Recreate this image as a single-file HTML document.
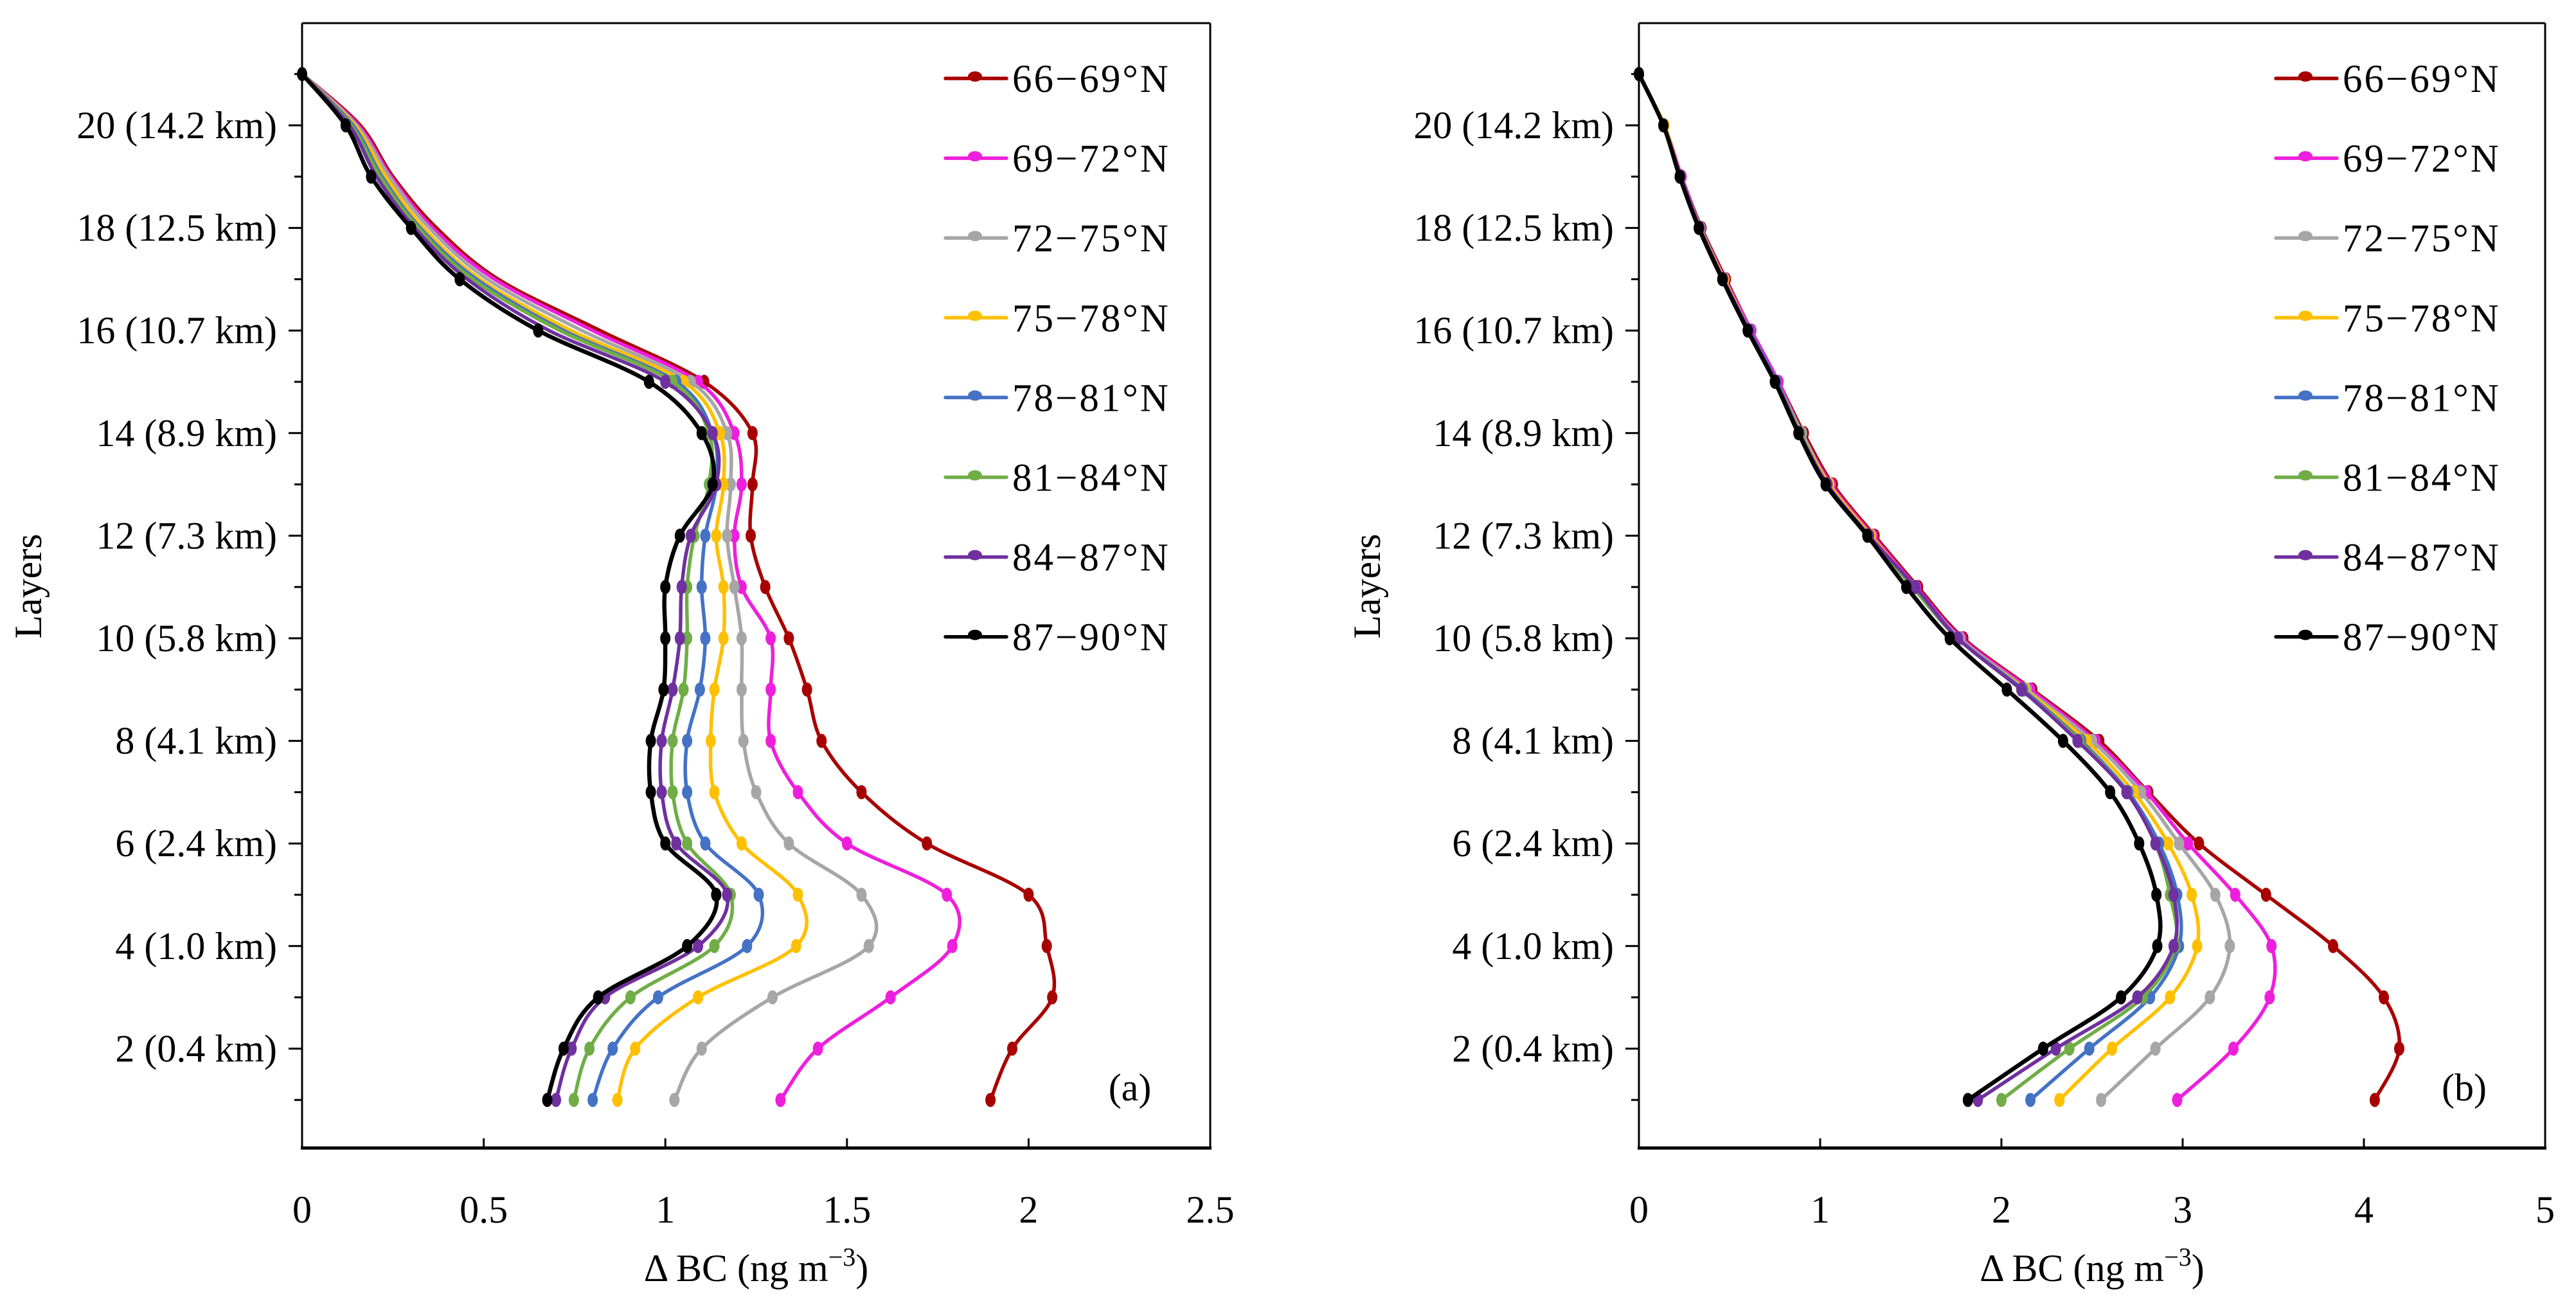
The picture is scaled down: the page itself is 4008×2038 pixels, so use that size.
<!DOCTYPE html>
<html><head><meta charset="utf-8">
<style>
html,body{margin:0;padding:0;background:#fff;}
svg{display:block;font-family:"Liberation Serif","Times New Roman",serif;}
svg text{font-family:"Liberation Serif","Times New Roman",serif;}
</style></head>
<body>
<svg id="chart" width="4008" height="2038" viewBox="0 0 4008 2038" xmlns="http://www.w3.org/2000/svg">
<rect width="4008" height="2038" fill="#fff"/>
</svg>
<script>
const seriesNames = ["66\u221269\u00B0N","69\u221272\u00B0N","72\u221275\u00B0N","75\u221278\u00B0N","78\u221281\u00B0N","81\u221284\u00B0N","84\u221287\u00B0N","87\u221290\u00B0N"];
const seriesColors = ["#a80000","#ee1fdc","#a6a6a6","#ffc000","#4472c4","#70ad47","#7030a0","#000000"];
const layers = [1,2,3,4,5,6,7,8,9,10,11,12,13,14,15,16,17,18,19,20,21];
const yTickLayers = [2,4,6,8,10,12,14,16,18,20];
const yTickLabels = ["2 (0.4 km)","4 (1.0 km)","6 (2.4 km)","8 (4.1 km)","10 (5.8 km)","12 (7.3 km)","14 (8.9 km)","16 (10.7 km)","18 (12.5 km)","20 (14.2 km)"];
const xTicksA = [0,0.5,1,1.5,2,2.5];
const xTickLabelsA = ["0","0.5","1","1.5","2","2.5"];
const xTicksB = [0,1,2,3,4,5];
const xTickLabelsB = ["0","1","2","3","4","5"];

const a_6669 = [1.895,1.955,2.065,2.05,2.0,1.72,1.54,1.43,1.39,1.34,1.275,1.235,1.24,1.24,1.107,0.82,0.54,0.37,0.25,0.16,0];
const a_6972 = [1.317,1.42,1.62,1.79,1.775,1.50,1.365,1.29,1.29,1.29,1.21,1.19,1.21,1.19,1.09,0.80,0.53,0.36,0.245,0.155,0];
const a_7275 = [1.025,1.10,1.295,1.56,1.54,1.34,1.25,1.215,1.21,1.21,1.19,1.17,1.18,1.17,1.07,0.77,0.51,0.35,0.24,0.15,0];
const a_7578 = [0.868,0.917,1.09,1.36,1.365,1.21,1.135,1.125,1.135,1.16,1.16,1.14,1.16,1.15,1.05,0.74,0.49,0.335,0.23,0.145,0];
const a_7881 = [0.80,0.855,0.98,1.225,1.257,1.11,1.06,1.06,1.095,1.11,1.10,1.11,1.14,1.13,1.03,0.72,0.48,0.325,0.22,0.14,0];
const a_8184 = [0.748,0.791,0.904,1.135,1.18,1.06,1.02,1.02,1.05,1.06,1.06,1.08,1.12,1.12,1.02,0.71,0.47,0.32,0.215,0.135,0];
const a_8487 = [0.699,0.742,0.834,1.09,1.17,1.03,0.99,0.99,1.02,1.04,1.045,1.07,1.14,1.13,1.0,0.68,0.455,0.31,0.205,0.13,0];
const a_8790 = [0.675,0.72,0.815,1.06,1.14,1.0,0.96,0.96,0.995,1.0,1.0,1.04,1.13,1.10,0.955,0.65,0.434,0.30,0.19,0.12,0];

const b_6669 = [4.06,4.195,4.11,3.83,3.46,3.09,2.81,2.54,2.17,1.79,1.54,1.30,1.07,0.91,0.77,0.62,0.48,0.345,0.235,0.14,0];
const b_6972 = [2.97,3.28,3.48,3.49,3.29,3.03,2.80,2.52,2.16,1.78,1.53,1.29,1.06,0.90,0.77,0.62,0.475,0.34,0.235,0.14,0];
const b_7275 = [2.55,2.85,3.15,3.26,3.18,2.98,2.77,2.50,2.14,1.77,1.52,1.28,1.05,0.90,0.76,0.61,0.47,0.34,0.23,0.14,0];
const b_7578 = [2.32,2.61,2.93,3.08,3.05,2.92,2.73,2.47,2.13,1.76,1.52,1.28,1.05,0.89,0.76,0.61,0.47,0.335,0.23,0.14,0];
const b_7881 = [2.16,2.485,2.82,2.98,2.97,2.87,2.70,2.44,2.12,1.76,1.51,1.27,1.04,0.89,0.76,0.61,0.465,0.335,0.23,0.135,0];
const b_8184 = [2.0,2.375,2.78,2.96,2.93,2.85,2.69,2.43,2.11,1.76,1.51,1.27,1.04,0.89,0.755,0.605,0.465,0.335,0.23,0.135,0];
const b_8487 = [1.87,2.30,2.75,2.95,2.95,2.85,2.69,2.42,2.11,1.76,1.525,1.27,1.04,0.885,0.755,0.605,0.465,0.335,0.23,0.135,0];
const b_8790 = [1.815,2.23,2.66,2.86,2.855,2.76,2.60,2.34,2.03,1.715,1.475,1.26,1.03,0.88,0.75,0.60,0.46,0.33,0.225,0.135,0];

const seriesA = [a_6669,a_6972,a_7275,a_7578,a_7881,a_8184,a_8487,a_8790];
const seriesB = [b_6669,b_6972,b_7275,b_7578,b_7881,b_8184,b_8487,b_8790];

const NS = "http://www.w3.org/2000/svg";
const svg = document.getElementById("chart");
function mk(tag, attrs, parent){
  const e = document.createElementNS(NS, tag);
  for (const k in attrs) e.setAttribute(k, attrs[k]);
  (parent||svg).appendChild(e);
  return e;
}
const TOP = 36, BOTTOM = 1786;
function yScale(L){ return 195 + (20 - L) * 79.8; }

function smoothPath(pts){
  let d = "M" + pts[0][0].toFixed(1) + "," + pts[0][1].toFixed(1);
  for (let i = 0; i < pts.length - 1; i++){
    const p0 = pts[Math.max(0,i-1)], p1 = pts[i], p2 = pts[i+1], p3 = pts[Math.min(pts.length-1,i+2)];
    const c1x = p1[0] + (p2[0]-p0[0])/6, c1y = p1[1] + (p2[1]-p0[1])/6;
    const c2x = p2[0] - (p3[0]-p1[0])/6, c2y = p2[1] - (p3[1]-p1[1])/6;
    d += " C" + c1x.toFixed(1)+","+c1y.toFixed(1)+" "+c2x.toFixed(1)+","+c2y.toFixed(1)+" "+p2[0].toFixed(1)+","+p2[1].toFixed(1);
  }
  return d;
}

function drawPanel(cfg){
  const g = mk("g", {});
  
  
  const xScale = v => cfg.left + (v - cfg.xmin) / (cfg.xmax - cfg.xmin) * (cfg.right - cfg.left);

  for (let s = 0; s < cfg.series.length; s++){
    const vals = cfg.series[s];
    const pts = vals.map((v,i) => [xScale(v), yScale(layers[i])]);
    const sg = mk("g", {}, g);
    
    
    const p = mk("path", {d: smoothPath(pts), fill:"none", stroke: seriesColors[s], "stroke-width": (s===7?6.5:5.5), "stroke-linejoin":"round", "stroke-linecap":"round"}, sg);
    
    
    for (let i = 0; i < pts.length; i++){
      if (s !== 7 && layers[i] > cfg.markerMaxLayer) continue;
      const c = mk("ellipse", {cx: pts[i][0], cy: pts[i][1], rx: 8, ry: 11, fill: seriesColors[s]}, sg);
      
      
    }
  }

  const frame = mk("g", {}, g);
  
  
  mk("line", {x1: cfg.left, y1: TOP, x2: cfg.right, y2: TOP, stroke:"#000", "stroke-width":3}, frame);
  mk("line", {x1: cfg.left, y1: TOP, x2: cfg.left, y2: BOTTOM, stroke:"#000", "stroke-width":3}, frame);
  mk("line", {x1: cfg.right, y1: TOP, x2: cfg.right, y2: BOTTOM, stroke:"#000", "stroke-width":3}, frame);
  mk("line", {x1: cfg.left-2, y1: BOTTOM, x2: cfg.right+2, y2: BOTTOM, stroke:"#000", "stroke-width":5}, frame);

  for (let L = 1; L <= 21; L++){
    const major = (L % 2 === 0);
    mk("line", {x1: cfg.left - (major?21:12), y1: yScale(L), x2: cfg.left, y2: yScale(L), stroke:"#000", "stroke-width":3}, frame);
  }
  for (let i = 0; i < yTickLayers.length; i++){
    const t = mk("text", {x: cfg.left - 39, y: yScale(yTickLayers[i]) + 20, "text-anchor":"end", "font-size":60, fill:"#000"}, g);
    t.textContent = yTickLabels[i];
    
    
  }
  for (let i = 0; i < cfg.xticks.length; i++){
    const x = xScale(cfg.xticks[i]);
    mk("line", {x1: x, y1: BOTTOM, x2: x, y2: BOTTOM - 15, stroke:"#000", "stroke-width":3}, frame);
    const t = mk("text", {x: x, y: 1902, "text-anchor":"middle", "font-size":60, fill:"#000"}, g);
    t.textContent = cfg.xlabels[i];
    
    
  }
  const cx = (cfg.left + cfg.right) / 2;
  const xt = mk("text", {x: cx, y: 1993, "text-anchor":"middle", "font-size":60, fill:"#000"}, g);
  xt.innerHTML = '\u0394 BC (ng m<tspan dy="-24" font-size="40">\u22123</tspan><tspan dy="24">)</tspan>';
  
  
  const yt = mk("text", {x: 0, y: 0, "text-anchor":"middle", "font-size":60, fill:"#000", transform: "translate(" + cfg.ytitleX + ",912) rotate(-90)"}, g);
  yt.textContent = "Layers";
  
  
  const pl = mk("text", {x: cfg.labelX, y: 1712, "text-anchor":"middle", "font-size":60, fill:"#000"}, g);
  pl.textContent = cfg.label;
  
  

  const lg = mk("g", {}, g);
  
  
  for (let s = 0; s < seriesNames.length; s++){
    const y = 122 + s * 124.1;
    const le = mk("g", {}, lg);
    
    
    mk("line", {x1: cfg.legendX, y1: y, x2: cfg.legendX + 95, y2: y, stroke: seriesColors[s], "stroke-width":5.5, "stroke-linecap":"round"}, le);
    mk("ellipse", {cx: cfg.legendX + 46, cy: y - 3, rx: 11, ry: 8, fill: seriesColors[s]}, le);
    const t = mk("text", {x: cfg.legendX + 104, y: y + 21, "font-size":61, "letter-spacing":"3", fill:"#000"}, le);
    t.textContent = seriesNames[s];
  }
}

drawPanel({name:"panel-a", left:470, right:1883, xmin:0, xmax:2.5, series:seriesA, xticks:xTicksA, xlabels:xTickLabelsA, ytitleX:64, label:"(a)", labelX:1758, legendX:1471, markerMaxLayer:15});
drawPanel({name:"panel-b", left:2550, right:3960, xmin:0, xmax:5, series:seriesB, xticks:xTicksB, xlabels:xTickLabelsB, ytitleX:2147, label:"(b)", labelX:3834, legendX:3541, markerMaxLayer:21});
</script>
</body></html>
